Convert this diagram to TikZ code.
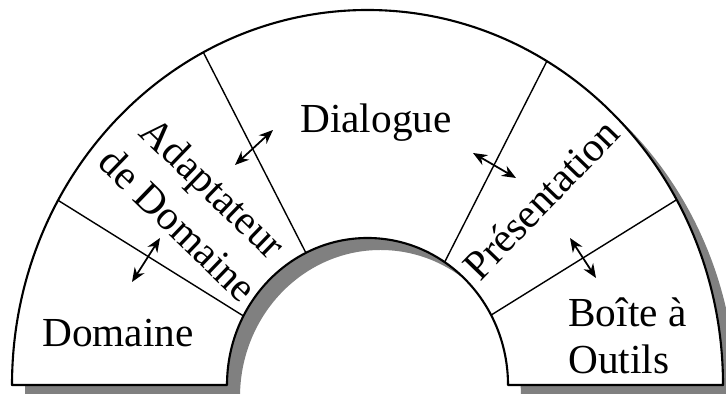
\documentclass[tikz,border=0pt]{standalone}
\usepackage{fontspec}
\setmainfont{Liberation Serif}
\usepackage{tikz}
\usetikzlibrary{arrows.meta, calc}

\begin{document}
\begin{tikzpicture}[
  x=0.02cm, y=0.02cm,
  lbl/.style={font=\fontsize{23.5}{27}\selectfont, inner sep=0pt, align=center},
  sep/.style={line width=0.8pt},
  arr/.style={{Stealth[length=8pt,width=6.5pt]}-{Stealth[length=8pt,width=6.5pt]}, line width=1pt}
]
  \useasboundingbox (0,0) rectangle (726,394);
  \coordinate (c) at (367.5,9);

  % shadow, then the arch on top
  \fill[gray, shift={(13,-12)}] (12,9) arc[start angle=180, end angle=0, x radius=355.5, y radius=375]
    -- (508,9) arc[start angle=0, end angle=180, x radius=140.5, y radius=147] -- cycle;
  \draw[fill=white, line width=1.2pt, line join=round] (12,9) arc[start angle=180, end angle=0, x radius=355.5, y radius=375]
    -- (508,9) arc[start angle=0, end angle=180, x radius=140.5, y radius=147] -- cycle;

  % borders between the layers
  \draw[sep] ($(c)+(150.5:355.5 and 375)$) -- ($(c)+(152:140.5 and 147)$);
  \draw[sep] ($(c)+(117.5:355.5 and 375)$) -- ($(c)+(116:140.5 and 147)$);
  \draw[sep] ($(c)+(59.7:355.5 and 375)$) -- ($(c)+(56.7:140.5 and 147)$);
  \draw[sep] ($(c)+(29.6:355.5 and 375)$) -- ($(c)+(28.4:140.5 and 147)$);

  \node[lbl] (dom) at (118,61) {Domaine};
  \node[lbl, rotate=-44] (adapt) at (196,188) {Adaptateur\\[2pt]de Domaine};
  \node[lbl] (dial) at (376,271) {Dialogue};
  \node[lbl, rotate=46] (pres) at (541,195) {Présentation};
  \node[lbl, align=left, anchor=west] (boite) at (568,58) {Boîte à\\Outils};

  \coordinate (a1) at (132,112); \coordinate (b1) at (160,156);
  \coordinate (a2) at (235,229); \coordinate (b2) at (273,264);
  \coordinate (a3) at (473,241); \coordinate (b3) at (516,216);
  \coordinate (a4) at (570,156); \coordinate (b4) at (596,116);

  \draw[arr] (a1) -- (b1);
  \draw[arr] (a2) -- (b2);
  \draw[arr] (a3) -- (b3);
  \draw[arr] (a4) -- (b4);
\end{tikzpicture}
\end{document}
